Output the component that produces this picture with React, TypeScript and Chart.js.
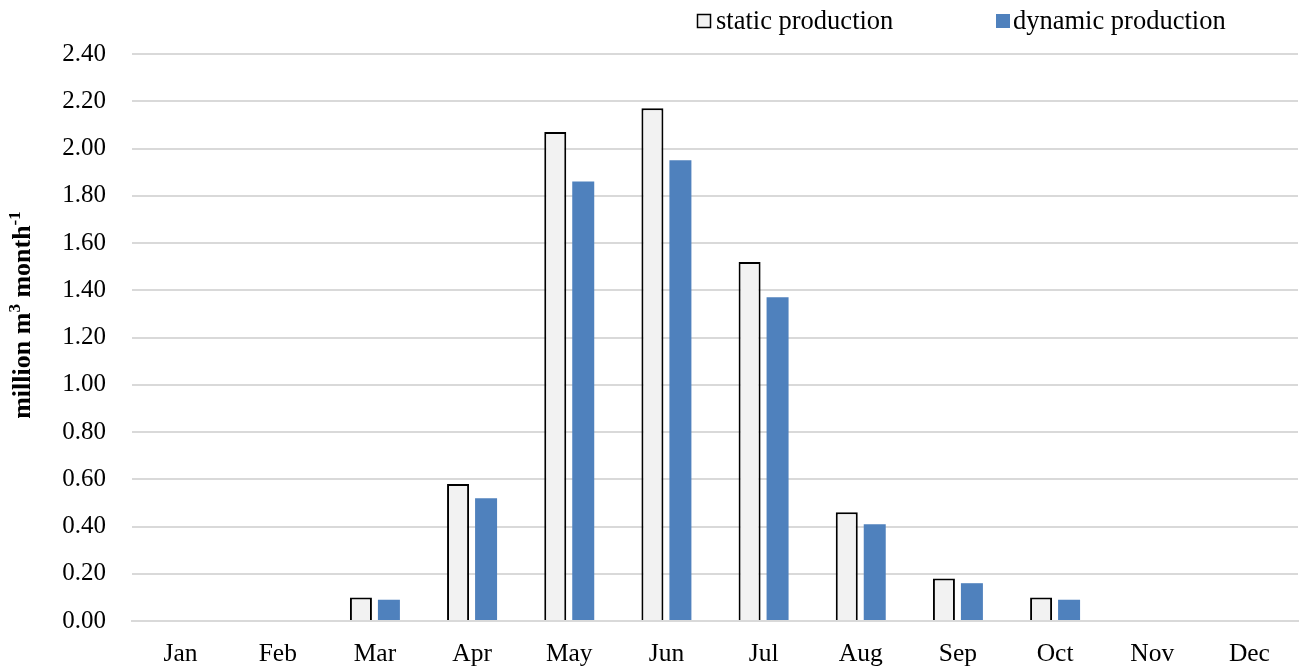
import React, { useEffect, useRef } from "react";
import { Chart, registerables } from "chart.js";

Chart.register(...registerables);

const months = ["Jan", "Feb", "Mar", "Apr", "May", "Jun", "Jul", "Aug", "Sep", "Oct", "Nov", "Dec"];
const staticProduction = [0, 0, 0.1, 0.58, 2.07, 2.17, 1.52, 0.46, 0.18, 0.1, 0, 0];
const dynamicProduction = [0, 0, 0.09, 0.52, 1.86, 1.95, 1.37, 0.41, 0.16, 0.09, 0, 0];
const legendLabels = ["static production", "dynamic production"];
const yTitleParts = [
  { text: "million m", sup: false },
  { text: "3", sup: true },
  { text: " month", sup: false },
  { text: "-1", sup: true },
];

const FONT = '"Liberation Serif", "Times New Roman", serif';

const customPlugin = {
  id: "customDecor",
  afterDraw(chart: any) {
    const ctx = chart.ctx as CanvasRenderingContext2D;
    ctx.save();
    // legend
    ctx.font = `26.5px ${FONT}`;
    ctx.textBaseline = "middle";
    const ly = 21;
    ctx.fillStyle = "#f2f2f2";
    ctx.fillRect(697, ly - 7, 14, 14);
    ctx.strokeStyle = "#000";
    ctx.lineWidth = 1.5;
    ctx.strokeRect(697.5, ly - 6.5, 13, 13);
    ctx.fillStyle = "#000";
    ctx.fillText(legendLabels[0], 716, ly + 1);
    ctx.fillStyle = "#4f81bd";
    ctx.fillRect(996, ly - 7, 14, 14);
    ctx.fillStyle = "#000";
    ctx.fillText(legendLabels[1], 1013, ly + 1);

    // y title
    const big = `bold 26px ${FONT}`;
    const small = `bold 17px ${FONT}`;
    let total = 0;
    for (const p of yTitleParts) {
      ctx.font = p.sup ? small : big;
      total += ctx.measureText(p.text).width;
    }
    ctx.translate(22, 315);
    ctx.rotate(-Math.PI / 2);
    let x = -total / 2;
    ctx.textBaseline = "middle";
    for (const p of yTitleParts) {
      ctx.font = p.sup ? small : big;
      ctx.fillText(p.text, x, p.sup ? -6 : 1);
      x += ctx.measureText(p.text).width;
    }
    ctx.restore();
  },
};

export default function App() {
  const ref = useRef<HTMLCanvasElement | null>(null);
  useEffect(() => {
    document.body.style.margin = "0";
    const canvas = ref.current!;
    const chart = new Chart(canvas, {
      type: "bar",
      data: {
        labels: months,
        datasets: [
          {
            label: legendLabels[0],
            data: staticProduction,
            backgroundColor: "#f2f2f2",
            borderColor: "#000",
            borderWidth: 2,
            categoryPercentage: 0.576,
            barPercentage: 0.786,
          },
          {
            label: legendLabels[1],
            data: dynamicProduction,
            backgroundColor: "#4f81bd",
            borderWidth: 0,
            categoryPercentage: 0.576,
            barPercentage: 0.786,
          },
        ],
      },
      plugins: [customPlugin],
      options: {
        animation: false,
        responsive: false,
        maintainAspectRatio: false,
        layout: { padding: { top: 54, right: 4, left: 0, bottom: 0 } },
        plugins: {
          legend: { display: false },
          tooltip: { enabled: false },
        },
        scales: {
          x: {
            grid: { display: false, drawTicks: false },
            border: { display: true, color: "#d9d9d9", width: 2 },
            ticks: {
              color: "#000",
              font: { family: FONT, size: 25.5 },
              padding: 18,
              maxRotation: 0,
            },
            afterFit: (s: any) => {
              s.height = 51;
            },
          },
          y: {
            min: 0,
            max: 2.4,
            grid: { color: "#d9d9d9", lineWidth: 2, drawTicks: false },
            border: { display: false },
            ticks: {
              stepSize: 0.2,
              color: "#000",
              font: { family: FONT, size: 25 },
              padding: 26,
              callback: (v: any) => Number(v).toFixed(2),
            },
            afterFit: (s: any) => {
              s.width = 132;
            },
          },
        },
      },
    });
    return () => chart.destroy();
  }, []);
  return (
    <div style={{ width: 1302, height: 672 }}>
      <canvas ref={ref} width={1302} height={672} style={{ display: "block" }} />
    </div>
  );
}
